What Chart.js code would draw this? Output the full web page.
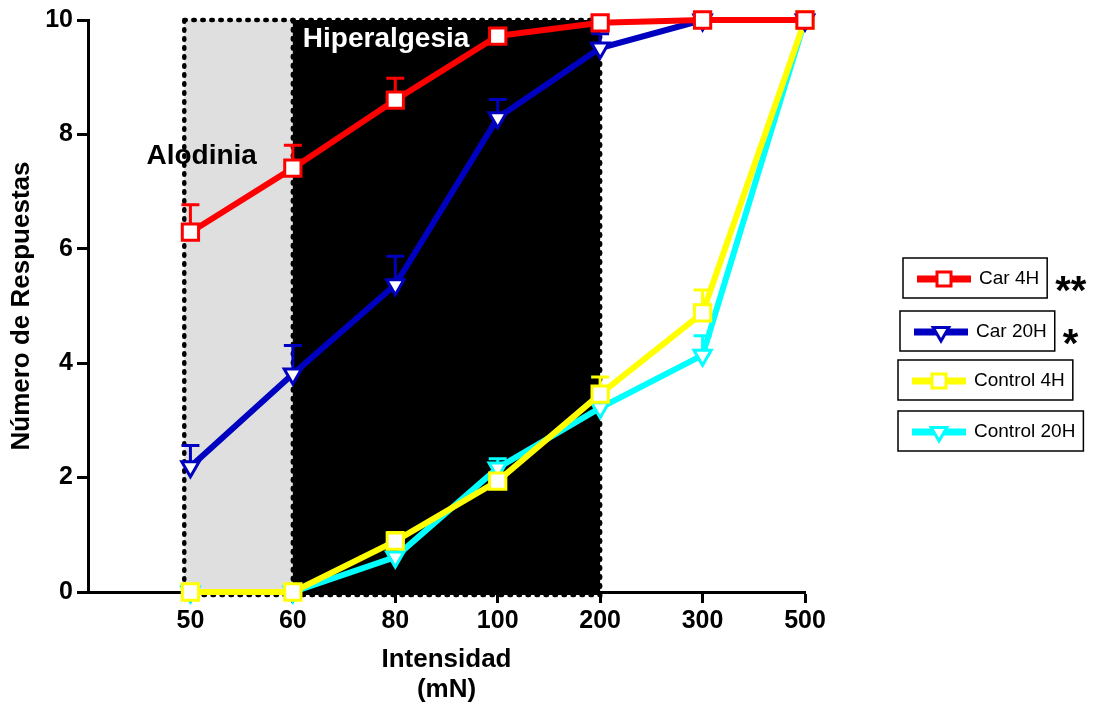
<!DOCTYPE html>
<html>
<head>
<meta charset="utf-8">
<script src="https://cdn.jsdelivr.net/npm/chart.js@4.4.1/dist/chart.umd.min.js"></script>
<style>
  html, body { margin: 0; padding: 0; background: #fff; }
  #wrap { width: 1097px; height: 709px; }
</style>
</head>
<body>
<div id="wrap"><canvas id="chart" width="1097" height="709"></canvas></div>
<script>
// intensities (mN) shown as evenly spaced categories
const intensities = ['50', '60', '80', '100', '200', '300', '500'];

// mean number of responses (out of 10) and upper error
const car4h = [6.29, 7.41, 8.6, 9.72, 9.95, 10, 10];
const car4hErr = [0.48, 0.4, 0.38, 0, 0, 0, 0];
const car20h = [2.19, 3.81, 5.37, 8.29, 9.51, 10, 10];
const car20hErr = [0.37, 0.5, 0.5, 0.32, 0.25, 0, 0];
const control4h = [0, 0, 0.89, 1.94, 3.46, 4.88, 10];
const control4hErr = [0, 0, 0.15, 0, 0.3, 0.4, 0];
const control20h = [0, 0, 0.61, 2.17, 3.22, 4.14, 10];
const control20hErr = [0, 0, 0, 0.16, 0, 0.34, 0];

const seriesNames = ['Car 4H', 'Car 20H', 'Control 4H', 'Control 20H'];
const significance = ['**', '*', '', ''];

const yTicks = [0, 2, 4, 6, 8, 10];

const FONT = "'Liberation Sans', Arial, sans-serif";

function toPoints(values) {
  return values.map((v, i) => ({ x: i, y: v }));
}

function makeSet(label, values, errors, color, style) {
  return {
    label: label,
    data: toPoints(values),
    errors: errors,
    borderColor: color,
    backgroundColor: color,
    borderWidth: 6,
    pointStyle: style,
    pointRadius: style === 'rect' ? 11.5 : 10,
    pointRotation: style === 'triangle' ? 180 : 0,
    pointBorderWidth: 3,
    pointBackgroundColor: '#ffffff',
    pointBorderColor: color,
    tension: 0,
    clip: false
  };
}

// grey = alodinia zone, black = hiperalgesia zone, with a dotted frame
const zonePlugin = {
  id: 'zones',
  beforeDraw(chart) {
    const { ctx, scales: { x, y } } = chart;
    const left = x.getPixelForValue(-0.06);
    const mid = x.getPixelForValue(1);
    const right = x.getPixelForValue(4);
    const top = y.getPixelForValue(10);
    const bottom = y.getPixelForValue(0) + 3;
    ctx.save();
    ctx.fillStyle = '#dfdfdf';
    ctx.fillRect(left, top, mid - left, bottom - top);
    ctx.fillStyle = '#000000';
    ctx.fillRect(mid, top, right - mid, bottom - top);

    ctx.strokeStyle = '#000000';
    ctx.lineWidth = 4.5;
    ctx.lineCap = 'round';
    ctx.setLineDash([1.5, 7.5]);
    ctx.strokeRect(left, top, right - left, bottom - top);
    ctx.beginPath();
    ctx.moveTo(mid, top);
    ctx.lineTo(mid, bottom);
    ctx.stroke();
    ctx.setLineDash([]);

    ctx.font = 'bold 28px ' + FONT;
    ctx.textAlign = 'center';
    ctx.textBaseline = 'middle';
    ctx.fillStyle = '#000000';
    ctx.fillText('Alodinia', x.getPixelForValue(0.11), y.getPixelForValue(7.62));
    ctx.fillStyle = '#ffffff';
    ctx.fillText('Hiperalgesia', x.getPixelForValue(1.91), y.getPixelForValue(9.67));
    ctx.restore();
  }
};

// upper error bars with a cap
const errorBarPlugin = {
  id: 'errorBars',
  beforeDatasetsDraw(chart) {
    const { ctx, scales: { x, y } } = chart;
    ctx.save();
    ctx.lineWidth = 3;
    for (let d = chart.data.datasets.length - 1; d >= 0; d--) {
      const ds = chart.data.datasets[d];
      ctx.strokeStyle = ds.borderColor;
      ds.data.forEach((p, i) => {
        const e = ds.errors[i];
        if (!e) return;
        const px = x.getPixelForValue(p.x);
        const y0 = y.getPixelForValue(p.y);
        const y1 = y.getPixelForValue(p.y + e);
        ctx.beginPath();
        ctx.moveTo(px, y0);
        ctx.lineTo(px, y1);
        ctx.moveTo(px - 9, y1);
        ctx.lineTo(px + 9, y1);
        ctx.stroke();
      });
    }
    ctx.restore();
  }
};

// legend: one framed box per series, stars to the right
const boxLegendPlugin = {
  id: 'boxLegend',
  afterDraw(chart) {
    const { ctx } = chart;
    const lefts = [903, 900, 898, 898];
    const tops = [258, 311, 360, 411];
    ctx.save();
    chart.data.datasets.forEach((ds, i) => {
      const bx = lefts[i];
      const by = tops[i];
      const h = 40;
      const cy = by + h / 2 + 1;
      ctx.font = '19px ' + FONT;
      const tw = ctx.measureText(ds.label).width;
      const w = 14 + 54 + 8 + tw + 8;

      ctx.strokeStyle = '#000000';
      ctx.lineWidth = 1.5;
      ctx.strokeRect(bx, by, w, h);

      ctx.strokeStyle = ds.borderColor;
      ctx.lineWidth = 7;
      ctx.beginPath();
      ctx.moveTo(bx + 14, cy);
      ctx.lineTo(bx + 68, cy);
      ctx.stroke();

      // marker: white fill, coloured outline
      ctx.fillStyle = '#ffffff';
      ctx.lineWidth = 3;
      ctx.beginPath();
      const mx = bx + 41;
      if (ds.pointStyle === 'rect') {
        const s = 7;
        ctx.rect(mx - s, cy - s, 2 * s, 2 * s);
      } else {
        const r = 9;
        ctx.moveTo(mx, cy + r);
        ctx.lineTo(mx - r * 0.866, cy - r / 2);
        ctx.lineTo(mx + r * 0.866, cy - r / 2);
        ctx.closePath();
      }
      ctx.fill();
      ctx.stroke();

      ctx.fillStyle = '#000000';
      ctx.textAlign = 'left';
      ctx.textBaseline = 'middle';
      ctx.fillText(ds.label, bx + 76, cy);

      if (significance[i]) {
        ctx.font = 'bold 40px ' + FONT;
        ctx.textBaseline = 'alphabetic';
        ctx.fillText(significance[i], bx + w + 8, cy + 25);
      }
    });
    ctx.restore();
  }
};

const ctx = document.getElementById('chart').getContext('2d');
const chart = new Chart(ctx, {
  type: 'line',
  data: {
    datasets: [
      makeSet(seriesNames[0], car4h, car4hErr, '#ff0000', 'rect'),
      makeSet(seriesNames[1], car20h, car20hErr, '#0000c0', 'triangle'),
      makeSet(seriesNames[2], control4h, control4hErr, '#ffff00', 'rect'),
      makeSet(seriesNames[3], control20h, control20hErr, '#00ffff', 'triangle')
    ]
  },
  options: {
    responsive: false,
    animation: false,
    devicePixelRatio: 1,
    layout: { padding: { left: 0, right: 292, top: 20, bottom: 0 } },
    plugins: {
      legend: { display: false },
      tooltip: { enabled: false }
    },
    scales: {
      x: {
        type: 'linear',
        min: -1,
        max: 6,
        afterFit: (scale) => { scale.height = 117; },
        afterBuildTicks: (scale) => {
          scale.ticks = intensities.map((t, i) => ({ value: i }));
        },
        ticks: {
          autoSkip: false,
          maxRotation: 0,
          padding: 3,
          color: '#000000',
          font: { family: FONT, size: 25, weight: 'bold' },
          callback: (v) => intensities[v] || ''
        },
        grid: { drawOnChartArea: false, drawTicks: true, tickLength: 11, tickWidth: 3, tickColor: '#000000' },
        border: { display: true, width: 3, color: '#000000' },
        title: {
          display: true,
          text: ['Intensidad', '(mN)'],
          color: '#000000',
          padding: { top: 0, bottom: 4 },
          font: { family: FONT, size: 26, weight: 'bold', lineHeight: 1.15 }
        }
      },
      y: {
        min: 0,
        max: 10,
        afterFit: (scale) => { scale.width = 88; },
        afterBuildTicks: (scale) => {
          scale.ticks = yTicks.map(v => ({ value: v }));
        },
        ticks: {
          padding: 4,
          color: '#000000',
          font: { family: FONT, size: 25, weight: 'bold' }
        },
        grid: { drawOnChartArea: false, drawTicks: true, tickLength: 11, tickWidth: 3, tickColor: '#000000' },
        border: { display: true, width: 3, color: '#000000' },
        title: {
          display: true,
          text: 'Número de Respuestas',
          color: '#000000',
          padding: { top: 7, bottom: 0 },
          font: { family: FONT, size: 26, weight: 'bold', lineHeight: 1.15 }
        }
      }
    }
  },
  plugins: [zonePlugin, errorBarPlugin, boxLegendPlugin]
});
</script>
</body>
</html>
